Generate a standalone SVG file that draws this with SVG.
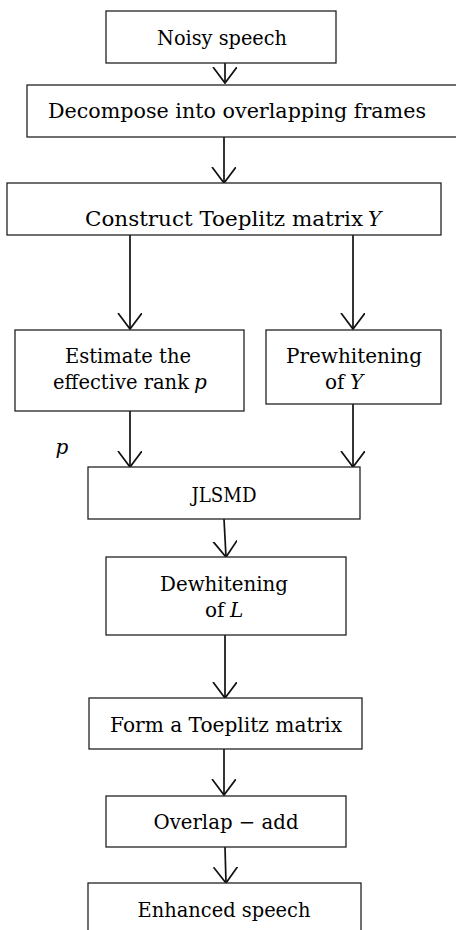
<svg xmlns="http://www.w3.org/2000/svg" width="456" height="930" viewBox="0 0 456 930">
<style>
.box{fill:#fff;stroke:#222;stroke-width:1.3}
.t{font-family:"DejaVu Serif","Liberation Serif",serif;font-size:20px;fill:#000;text-anchor:middle}
.s{text-anchor:start}
.i{font-style:italic}
.c{stroke:#111;stroke-width:1.7;fill:none}
</style>
<defs>
<marker id="v" markerWidth="28" markerHeight="26" refX="16" refY="12" orient="auto" markerUnits="userSpaceOnUse">
<path d="M0,0 L16,12 L0,24" fill="none" stroke="#111" stroke-width="1.7"/>
</marker>
</defs>
<rect width="456" height="930" fill="#fff"/>
<g id="connectors">
<line class="c" x1="225" y1="63" x2="225" y2="83" marker-end="url(#v)"/>
<line class="c" x1="224" y1="137" x2="224" y2="183" marker-end="url(#v)"/>
<line class="c" x1="130" y1="235" x2="130" y2="329" marker-end="url(#v)"/>
<line class="c" x1="353" y1="235" x2="353" y2="329" marker-end="url(#v)"/>
<line class="c" x1="130" y1="411" x2="130" y2="467" marker-end="url(#v)"/>
<line class="c" x1="353" y1="404" x2="353" y2="467" marker-end="url(#v)"/>
<line class="c" x1="224" y1="519" x2="226" y2="557" marker-end="url(#v)"/>
<line class="c" x1="225" y1="635" x2="225" y2="698" marker-end="url(#v)"/>
<line class="c" x1="224" y1="749" x2="224" y2="795" marker-end="url(#v)"/>
<line class="c" x1="225" y1="847" x2="226" y2="883" marker-end="url(#v)"/>
</g>
<g id="n1"><rect class="box" x="106" y="11" width="230" height="52"/><text class="t" x="222" y="45" textLength="130" lengthAdjust="spacingAndGlyphs">Noisy speech</text></g>
<g id="n2"><rect class="box" x="27" y="85" width="435" height="52"/><text class="t" x="237" y="118" textLength="378" lengthAdjust="spacingAndGlyphs">Decompose into overlapping frames</text></g>
<g id="n3"><rect class="box" x="7" y="183" width="434" height="52"/><text class="t s" x="85" y="226" textLength="278" lengthAdjust="spacingAndGlyphs">Construct Toeplitz matrix</text><text class="t s i" x="368" y="226">Y</text></g>
<g id="n4"><rect class="box" x="15" y="330" width="229" height="81"/><text class="t" x="128" y="363" textLength="126" lengthAdjust="spacingAndGlyphs">Estimate the</text><text class="t s" x="53" y="389" textLength="136" lengthAdjust="spacingAndGlyphs">effective rank</text><text class="t s i" x="194" y="389">p</text></g>
<g id="n5"><rect class="box" x="266" y="330" width="175" height="74"/><text class="t" x="354" y="363" textLength="136" lengthAdjust="spacingAndGlyphs">Prewhitening</text><text class="t s" x="325" y="389">of</text><text class="t s i" x="350" y="389">Y</text></g>
<text id="lp" class="t i" x="62" y="454">p</text>
<g id="n6"><rect class="box" x="88" y="467" width="272" height="52"/><text class="t" x="224" y="502" textLength="65" lengthAdjust="spacingAndGlyphs">JLSMD</text></g>
<g id="n7"><rect class="box" x="106" y="557" width="240" height="78"/><text class="t" x="224" y="591" textLength="128" lengthAdjust="spacingAndGlyphs">Dewhitening</text><text class="t s" x="205" y="617">of</text><text class="t s i" x="230" y="617">L</text></g>
<g id="n8"><rect class="box" x="89" y="698" width="273" height="51"/><text class="t" x="226" y="732" textLength="232" lengthAdjust="spacingAndGlyphs">Form a Toeplitz matrix</text></g>
<g id="n9"><rect class="box" x="106" y="796" width="240" height="51"/><text class="t" x="226" y="829" textLength="145" lengthAdjust="spacingAndGlyphs">Overlap − add</text></g>
<g id="n10"><rect class="box" x="88" y="883" width="273" height="60"/><text class="t" x="224" y="917" textLength="173" lengthAdjust="spacingAndGlyphs">Enhanced speech</text></g>
</svg>
